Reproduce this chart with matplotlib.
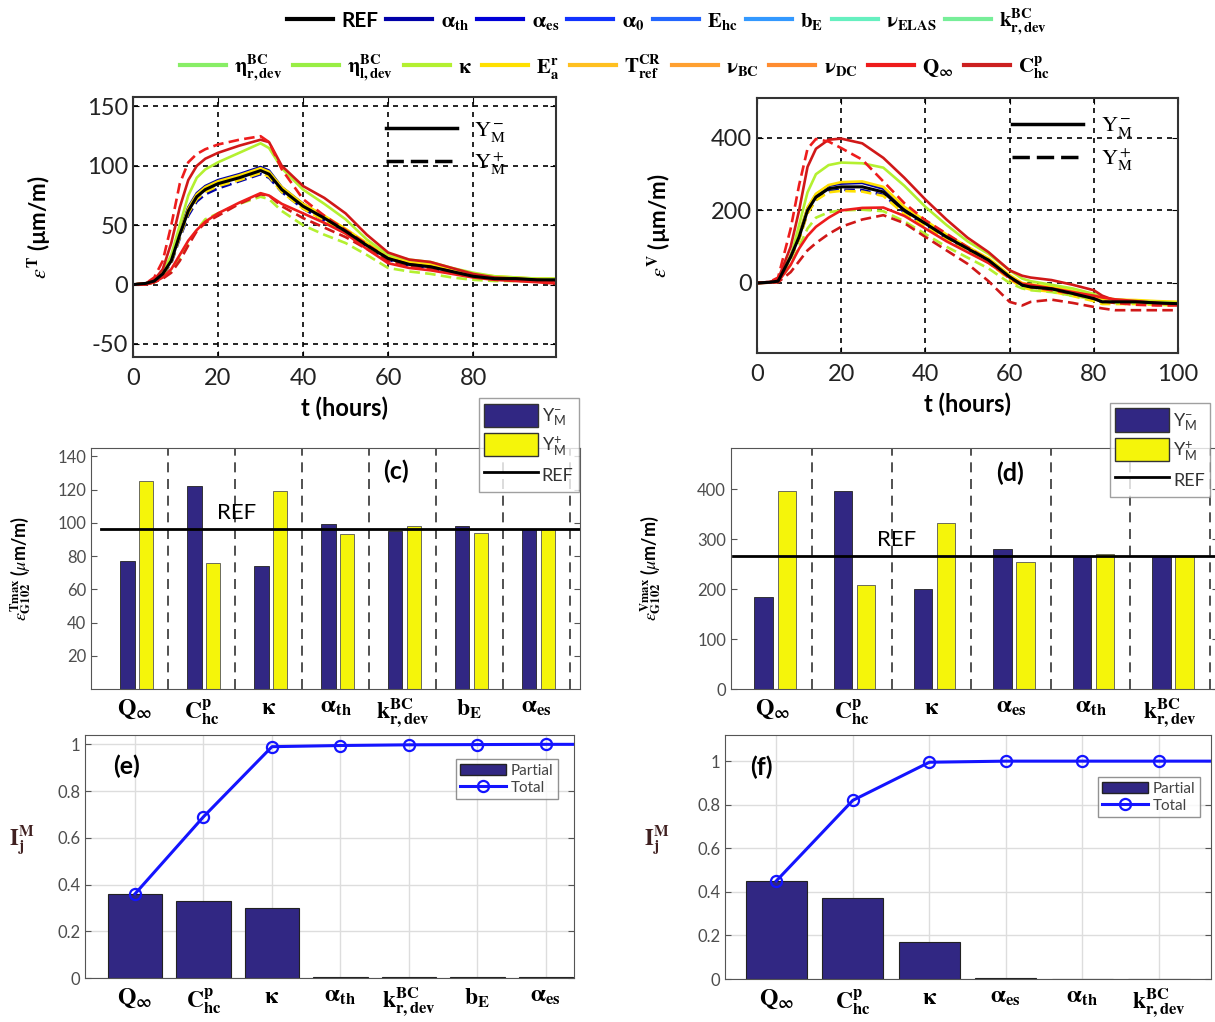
import numpy as np
import matplotlib
matplotlib.use("Agg")
import matplotlib.pyplot as plt
from matplotlib.lines import Line2D
from matplotlib.patches import Patch

plt.rcParams['font.family'] = ['Lato', 'DejaVu Sans']
plt.rcParams['mathtext.fontset'] = 'stix'
plt.rcParams['axes.unicode_minus'] = False

#%% data
# (a) transverse strain, um/m
t_a = [0, 3, 5, 7, 9, 11, 13, 15, 17, 20, 25, 30, 32, 35, 40, 45, 50, 55, 60, 65, 70, 75, 80, 85, 90, 95, 99]
ref_a = [0, 1, 3, 9, 20, 42, 62, 74, 80, 85, 90, 96, 93, 80, 66, 56, 45, 33, 22, 17, 15, 11, 7, 5, 5, 4, 4]
ath_minus_a = [0, 1, 3, 10, 22, 45, 65, 77, 83, 88, 93, 99, 96, 82, 68, 57, 46, 34, 22, 17, 15, 11, 7, 5, 5, 4, 4]
ath_plus_a = [0, 1, 3, 8, 18, 39, 58, 70, 76, 81, 87, 93, 90, 78, 64, 54, 44, 32, 21, 16, 14, 10, 7, 5, 4, 4, 4]
ea_minus_a = [0, 1, 3, 10, 21, 44, 64, 76, 82, 87, 92, 98, 95, 82, 68, 58, 47, 35, 24, 19, 17, 13, 9, 7, 6, 5, 5]
ea_plus_a = [0, 1, 3, 8, 19, 40, 60, 72, 78, 83, 88, 94, 91, 78, 64, 54, 43, 31, 21, 16, 14, 10, 6, 5, 4, 4, 3]
kappa_plus_a = [0, 1, 3, 10, 25, 50, 75, 90, 97, 103, 111, 119, 115, 98, 80, 68, 55, 38, 25, 21, 19, 14, 10, 7, 6, 5, 5]
kappa_minus_a = [0, 0, 2, 6, 12, 22, 35, 46, 55, 60, 68, 74, 72, 62, 50, 42, 35, 25, 14, 11, 9, 6, 4, 3, 3, 3, 3]
chp_minus_a = [0, 1, 4, 13, 35, 65, 88, 100, 106, 111, 117, 122, 120, 100, 83, 73, 60, 42, 27, 21, 19, 14, 9, 6, 5, 4, 3]
chp_plus_a = [0, 0, 2, 5, 10, 20, 33, 45, 52, 58, 68, 76, 75, 66, 56, 48, 40, 30, 20, 16, 14, 10, 7, 5, 4, 3, 2]
qinf_minus_a = [0, 0, 2, 6, 13, 25, 37, 46, 53, 60, 69, 77, 75, 68, 60, 52, 43, 30, 18, 14, 12, 9, 6, 4, 3, 2, 1]
qinf_plus_a = [0, 1, 6, 20, 50, 85, 103, 110, 114, 118, 122, 125, 120, 97, 72, 58, 46, 34, 22, 17, 15, 11, 7, 5, 4, 3, 2]

# (b) vertical strain, um/m
t_b = [0, 3, 5, 8, 10, 12, 14, 17, 20, 25, 30, 35, 40, 45, 50, 55, 60, 63, 65, 70, 75, 80, 82, 85, 90, 95, 100]
ref_b = [0, 2, 5, 72, 127, 200, 237, 260, 265, 265, 251, 200, 164, 127, 95, 63, 17, -6, -11, -16, -29, -43, -52, -52, -52, -55, -57]
ath_minus_b = [0, 2, 5, 75, 132, 206, 244, 268, 274, 276, 260, 206, 168, 130, 97, 64, 18, -5, -10, -15, -28, -42, -51, -51, -52, -54, -56]
ath_plus_b = [0, 2, 5, 69, 122, 194, 230, 253, 257, 256, 243, 195, 160, 124, 93, 62, 16, -7, -12, -17, -30, -44, -53, -53, -53, -56, -58]
ea_minus_b = [0, 2, 5, 76, 134, 208, 246, 270, 278, 280, 265, 210, 172, 134, 100, 68, 22, 0, -4, -10, -22, -36, -45, -46, -47, -50, -52]
ea_plus_b = [0, 2, 5, 68, 120, 192, 228, 250, 254, 252, 240, 190, 156, 120, 88, 56, 10, -12, -18, -24, -36, -50, -58, -58, -58, -60, -62]
kappa_plus_b = [0, 2, 5, 70, 160, 250, 300, 325, 332, 330, 318, 268, 210, 160, 115, 80, 35, 12, 5, -5, -15, -30, -40, -45, -50, -52, -55]
kappa_minus_b = [0, 1, 3, 50, 100, 150, 180, 195, 200, 202, 198, 170, 135, 100, 70, 40, 0, -15, -20, -25, -35, -45, -50, -55, -55, -58, -60]
chp_minus_b = [0, 3, 10, 100, 200, 320, 370, 395, 398, 385, 345, 290, 230, 175, 125, 85, 35, 20, 15, 8, -5, -20, -35, -48, -52, -55, -58]
chp_plus_b = [0, 1, 2, 30, 60, 90, 110, 135, 155, 175, 187, 165, 127, 90, 53, 5, -52, -62, -52, -46, -55, -66, -70, -75, -75, -75, -75]
qinf_minus_b = [0, 1, 3, 50, 95, 130, 155, 180, 200, 207, 208, 185, 150, 115, 85, 55, 15, -2, -5, -15, -25, -35, -40, -45, -50, -55, -60]
qinf_plus_b = [0, 3, 15, 150, 270, 370, 397, 390, 372, 340, 280, 220, 173, 136, 99, 63, 12, -5, -11, -20, -30, -43, -50, -55, -60, -62, -62]

# (c) max transverse strain per parameter
cat_c = [r'$\mathbf{Q_\infty}$', r'$\mathbf{C^p_{hc}}$', r'$\mathbf{\kappa}$', r'$\mathbf{\alpha_{th}}$',
         r'$\mathbf{k^{BC}_{r,dev}}$', r'$\mathbf{b_E}$', r'$\mathbf{\alpha_{es}}$']
c_minus = [77, 122, 74, 99, 95, 98, 96]
c_plus = [125, 76, 119, 93, 98, 94, 96]
c_ref = 96

# (d) max vertical strain per parameter
cat_d = [r'$\mathbf{Q_\infty}$', r'$\mathbf{C^p_{hc}}$', r'$\mathbf{\kappa}$', r'$\mathbf{\alpha_{es}}$',
         r'$\mathbf{\alpha_{th}}$', r'$\mathbf{k^{BC}_{r,dev}}$']
d_minus = [185, 397, 200, 280, 266, 266]
d_plus = [397, 208, 332, 255, 270, 266]
d_ref = 267

# (e), (f) importance indices (total keeps going past the right edge)
e_partial = [0.36, 0.33, 0.30, 0.004, 0.003, 0.003, 0.003]
e_total = [0.36, 0.69, 0.99, 0.995, 0.998, 0.999, 1.0, 1.0]
f_partial = [0.45, 0.37, 0.17, 0.005, 0.001, 0.001]
f_total = [0.45, 0.82, 0.995, 1.0, 1.0, 1.0, 1.0]

# top legend
leg1_labels = ['REF', r'$\mathbf{\alpha_{th}}$', r'$\mathbf{\alpha_{es}}$', r'$\mathbf{\alpha_0}$',
               r'$\mathbf{E_{hc}}$', r'$\mathbf{b_E}$', r'$\mathbf{\nu_{ELAS}}$', r'$\mathbf{k^{BC}_{r,dev}}$']
leg1_colors = ['black', '#0000a8', '#0000d8', '#1133ff', '#2266ff', '#3399ff', '#66f0c0', '#77ee99']
leg2_labels = [r'$\mathbf{\eta^{BC}_{r,dev}}$', r'$\mathbf{\eta^{BC}_{l,dev}}$', r'$\mathbf{\kappa}$',
               r'$\mathbf{E^r_a}$', r'$\mathbf{T^{CR}_{ref}}$', r'$\mathbf{\nu_{BC}}$', r'$\mathbf{\nu_{DC}}$',
               r'$\mathbf{Q_\infty}$', r'$\mathbf{C^p_{hc}}$']
leg2_colors = ['#88ee66', '#99ee44', '#b4f030', '#ffe000', '#ffc020', '#ffa030', '#ff8c30', '#ee1c1c', '#cc2020']

#%% figure
W, H = 1215, 1022
fig = plt.figure(figsize=(W / 100, H / 100), dpi=100)

def px(x0, y0, x1, y1):
    return [x0 / W, 1 - y1 / H, (x1 - x0) / W, (y1 - y0) / H]

navy = '#312783'
yel = '#f5f50a'
grey = '#4d4d4d'
c_blue = '#0000a8'
c_yel = '#ffe000'
c_green = '#b4f030'
c_red = '#ee1c1c'
c_dred = '#d01818'
dash = (0, (4, 2))

def curves(ax, t, series):
    for y, col, ls in series:
        ax.plot(t, y, color=col, ls=ls, lw=1.9)

def style_time(ax):
    ax.grid(True, color='black', ls=(0, (3, 3)), lw=1.2)
    for s in ax.spines.values():
        s.set_color('#333333')
        s.set_linewidth(1.5)
    ax.tick_params(direction='in', length=4, labelsize=17, labelcolor='#222222',
                   top=True, right=True)
    ax.tick_params(axis='x', pad=8)
    ax.set_xlabel('t (hours)', fontsize=17, fontweight='bold', labelpad=5)

def pm_legend(ax, anchor):
    ax.legend([Line2D([], [], color='black', lw=2.5), Line2D([], [], color='black', lw=2.5, ls=(0, (5, 2)))],
              [r'$\mathrm{Y_M^-}$', r'$\mathrm{Y_M^+}$'], loc='upper right', bbox_to_anchor=anchor,
              frameon=False, fontsize=16, handlelength=3.2, labelspacing=0.3)

# (a)
ax = fig.add_axes(px(133, 97, 556, 357))
curves(ax, t_a, [(ath_minus_a, c_blue, '-'), (ath_plus_a, c_blue, dash),
                 (ea_minus_a, c_yel, '-'), (ea_plus_a, c_yel, dash),
                 (kappa_plus_a, c_green, '-'), (kappa_minus_a, c_green, dash),
                 (chp_minus_a, c_dred, '-'), (chp_plus_a, c_dred, dash),
                 (qinf_minus_a, c_red, '-'), (qinf_plus_a, c_red, dash)])
ax.plot(t_a, ref_a, color='black', lw=2.2)
ax.set_xlim(0, 99.5)
ax.set_ylim(-61, 158)
ax.set_xticks([0, 20, 40, 60, 80])
ax.set_yticks([-50, 0, 50, 100, 150])
style_time(ax)
ax.set_ylabel(r'$\varepsilon^{\mathbf{T}}$ (µm/m)', fontsize=16, fontweight='bold')
ax.yaxis.set_label_coords(-0.19, 0.5)
pm_legend(ax, (0.93, 0.99))

# (b)
ax = fig.add_axes(px(757, 98, 1178, 353))
curves(ax, t_b, [(ath_minus_b, c_blue, '-'), (ath_plus_b, c_blue, dash),
                 (ea_minus_b, c_yel, '-'), (ea_plus_b, c_yel, dash),
                 (kappa_plus_b, c_green, '-'), (kappa_minus_b, c_green, dash),
                 (chp_minus_b, c_dred, '-'), (chp_plus_b, c_dred, dash),
                 (qinf_minus_b, c_red, '-'), (qinf_plus_b, c_red, dash)])
ax.plot(t_b, ref_b, color='black', lw=2.2)
ax.set_xlim(0, 100)
ax.set_ylim(-193, 510)
ax.set_xticks([0, 20, 40, 60, 80, 100])
ax.set_yticks([0, 200, 400])
style_time(ax)
ax.set_ylabel(r'$\varepsilon^{\mathbf{V}}$ (µm/m)', fontsize=16, fontweight='bold')
ax.yaxis.set_label_coords(-0.2, 0.5)
pm_legend(ax, (0.94, 1.01))

def style_bar(ax):
    for s in ax.spines.values():
        s.set_color('#555555')
    ax.tick_params(axis='y', direction='in', length=4, labelsize=12, right=True, colors='#555555')
    ax.tick_params(axis='y', labelcolor=grey)
    ax.tick_params(axis='x', length=0, labelsize=17, pad=6)

def bar_legend(ax, anchor):
    h = [Patch(facecolor=navy, edgecolor='#333333'), Patch(facecolor=yel, edgecolor='#333333'),
         Line2D([], [], color='black', lw=2)]
    lab = [r'Y$_\mathregular{M}^\mathregular{-}$', r'Y$_\mathregular{M}^\mathregular{+}$', 'REF']
    lg = ax.legend(h, lab, loc='upper right', bbox_to_anchor=anchor, fontsize=13,
                   handlelength=3.0, handleheight=1.6, fancybox=False, edgecolor='#888888',
                   borderaxespad=0, labelspacing=0.3, handletextpad=0.2, borderpad=0.3)
    for tx in lg.get_texts():
        tx.set_color('#333333')

# (c)
ax = fig.add_axes(px(91, 448, 580, 689))
xc = np.arange(1, len(c_minus) + 1)
ax.bar(xc - 0.11, c_minus, 0.22, color=navy, edgecolor='#222222', lw=0.6)
ax.bar(xc + 0.17, c_plus, 0.21, color=yel, edgecolor='#555555', lw=0.6)
for s in xc + 0.5:
    ax.axvline(s, color='#333333', ls=(0, (6, 4)), lw=1.2)
ax.plot([0.5, 7.65], [c_ref, c_ref], color='black', lw=2)
ax.text(2.52, c_ref + 4, 'REF', ha='center', va='bottom', fontsize=16)
ax.text(4.9, 131, '(c)', ha='center', va='center', fontsize=18, fontweight='bold')
ax.set_xlim(0.35, 7.65)
ax.set_ylim(0, 145)
ax.set_yticks(range(20, 141, 20))
ax.set_xticks(xc)
ax.set_xticklabels(cat_c)
style_bar(ax)
ax.set_ylabel(r'$\epsilon^{\mathbf{Tmax}}_{\mathbf{G102}}$ ($\mu$m/m)', fontsize=13, fontweight='bold')
ax.yaxis.set_label_coords(-0.118, 0.5)
bar_legend(ax, (0.998, 1.207))

# (d)
ax = fig.add_axes(px(731, 448, 1218, 689))
xd = np.arange(1, len(d_minus) + 1)
ax.bar(xd - 0.11, d_minus, 0.23, color=navy, edgecolor='#222222', lw=0.6)
ax.bar(xd + 0.18, d_plus, 0.23, color=yel, edgecolor='#555555', lw=0.6)
for s in xd + 0.5:
    ax.axvline(s, color='#333333', ls=(0, (6, 4)), lw=1.2)
ax.plot([0.5, 6.7], [d_ref, d_ref], color='black', lw=2)
ax.text(2.56, d_ref + 12, 'REF', ha='center', va='bottom', fontsize=16)
ax.text(3.99, 432, '(d)', ha='center', va='center', fontsize=18, fontweight='bold')
ax.set_xlim(0.48, 6.6)
ax.set_ylim(0, 482)
ax.set_yticks(range(0, 401, 100))
ax.set_xticks(xd)
ax.set_xticklabels(cat_d)
style_bar(ax)
ax.set_ylabel(r'$\epsilon^{\mathbf{Vmax}}_{\mathbf{G102}}$ ($\mu$m/m)', fontsize=13, fontweight='bold')
ax.yaxis.set_label_coords(-0.14, 0.5)
bar_legend(ax, (0.984, 1.187))

def imp_panel(ax, partial, total, labels, tag, tagxy, anchor, ylim):
    xx = np.arange(1, len(partial) + 1)
    ax.bar(xx, partial, 0.8, color=navy, edgecolor='#222222', lw=0.8, zorder=2)
    ax.plot(np.arange(1, len(total) + 1), total, color='#1414ff', lw=2.2, marker='o', ms=8,
            mfc='none', mew=1.6, zorder=3)
    ax.set_ylim(*ylim)
    ax.set_yticks([0, 0.2, 0.4, 0.6, 0.8, 1])
    ax.set_yticklabels(['0', '0.2', '0.4', '0.6', '0.8', '1'])
    ax.set_xticks(xx)
    ax.set_xticklabels(labels)
    ax.grid(True, color='#dddddd', lw=1.0, zorder=0)
    ax.set_axisbelow(True)
    style_bar(ax)
    ax.text(tagxy[0], tagxy[1], tag, ha='center', va='center', fontsize=18, fontweight='bold')
    ax.set_ylabel(r'$\mathbf{I_j^M}$', fontsize=16, rotation=0, color='#402020')
    h = [Patch(facecolor=navy, edgecolor='#222222'),
         Line2D([], [], color='#1414ff', lw=2.2, marker='o', ms=8, mfc='none', mew=1.6)]
    lg = ax.legend(h, ['Partial', 'Total'], loc='upper right', bbox_to_anchor=anchor, fontsize=11,
                   handlelength=3.0, fancybox=False, edgecolor='#777777', borderaxespad=0,
                   labelspacing=0.2, handletextpad=0.3, borderpad=0.3)
    for tx in lg.get_texts():
        tx.set_color('#444444')

# (e)
ax = fig.add_axes(px(85, 735, 574, 978))
imp_panel(ax, e_partial, e_total, cat_c, '(e)', (0.88, 0.905), (0.967, 0.901), (0, 1.04))
ax.set_xlim(0.27, 7.41)
ax.yaxis.set_label_coords(-0.13, 0.5)

# (f)
ax = fig.add_axes(px(725, 735, 1211, 979))
imp_panel(ax, f_partial, f_total, cat_d, '(f)', (0.8, 0.97), (0.977, 0.828), (0, 1.12))
ax.set_xlim(0.33, 6.68)
ax.yaxis.set_label_coords(-0.14, 0.5)

# top legend, two rows
h1 = [Line2D([], [], color=c, lw=3) for c in leg1_colors]
fig.legend(h1, leg1_labels, loc='center', bbox_to_anchor=(667 / W, 1 - 22 / H), ncol=8,
           frameon=False, prop={'size': 15, 'weight': 'bold'}, handlelength=2.2,
           handletextpad=0.4, columnspacing=0.4)
h2 = [Line2D([], [], color=c, lw=3) for c in leg2_colors]
fig.legend(h2, leg2_labels, loc='center', bbox_to_anchor=(615 / W, 1 - 68 / H), ncol=9,
           frameon=False, prop={'size': 15, 'weight': 'bold'}, handlelength=2.2,
           handletextpad=0.4, columnspacing=0.5)

fig.savefig('out.png', dpi=100)
